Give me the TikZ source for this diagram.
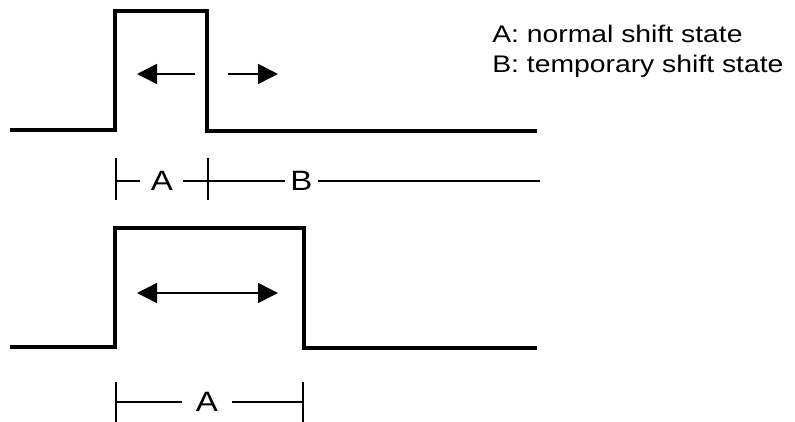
\documentclass[tikz,border=0pt]{standalone}
\usepackage{fontspec}
\setmainfont{Liberation Sans}[FakeStretch=1.18]
\usetikzlibrary{arrows.meta}

\begin{document}
\begin{tikzpicture}[x=0.75pt, y=-0.75pt,
     wave/.style={line width=3pt, line join=miter},
     dim/.style={line width=1pt},
     a/.style={-{Triangle[length=15pt, width=15pt]}, line width=1.1pt},
     lbl/.style={font=\fontsize{21}{24}\selectfont, inner ysep=0pt},
     note/.style={font=\fontsize{18}{22}\selectfont, anchor=base west, inner sep=0pt}]
  \useasboundingbox (0,0) rectangle (795,421);

  % short pulse, shift state A then B
  \draw[wave] (10,130) -- (115,130) -- (115,11) -- (207,11) -- (207,131) -- (537,131);
  \coordinate (p1) at (195,74);
  \coordinate (p1l) at (137,74);
  \coordinate (p1r) at (228,74);
  \coordinate (p1t) at (278,74);
  \draw[a] (p1) -- (p1l);
  \draw[a] (p1r) -- (p1t);

  \coordinate (ta) at (116,181);
  \coordinate (tb) at (208,181);
  \coordinate (te) at (540,181);
  \node[lbl, inner xsep=7.6pt] (A1) at (161.9,181) {A};
  \node[lbl, inner xsep=4.1pt] (B1) at (301.5,181) {B};
  \draw[dim] (ta) ++(0,-23) -- ++(0,42);
  \draw[dim] (tb) ++(0,-23) -- ++(0,42);
  \draw[dim] (ta) -- (A1) -- (tb) (A1) (tb) -- (B1) -- (te);

  % long pulse, state A only
  \draw[wave] (10,347) -- (115,347) -- (115,228) -- (304,228) -- (304,348) -- (537,348);
  \coordinate (p2l) at (137,293);
  \coordinate (p2r) at (278,293);
  \draw[a, {Triangle[length=15pt, width=15pt]}-{Triangle[length=15pt, width=15pt]}] (p2l) -- (p2r);

  \coordinate (ua) at (116,402);
  \coordinate (ub) at (303,402);
  \node[lbl, inner xsep=10.5pt] (A2) at (207,402) {A};
  \draw[dim] (ua) ++(0,-20) -- ++(0,40);
  \draw[dim] (ub) ++(0,-20) -- ++(0,40);
  \draw[dim] (ua) -- (A2) -- (ub);

  \node[note] (na) at (492,42) {A: normal shift state};
  \node[note] (nb) at (492,72) {B: temporary shift state};
\end{tikzpicture}
\end{document}
